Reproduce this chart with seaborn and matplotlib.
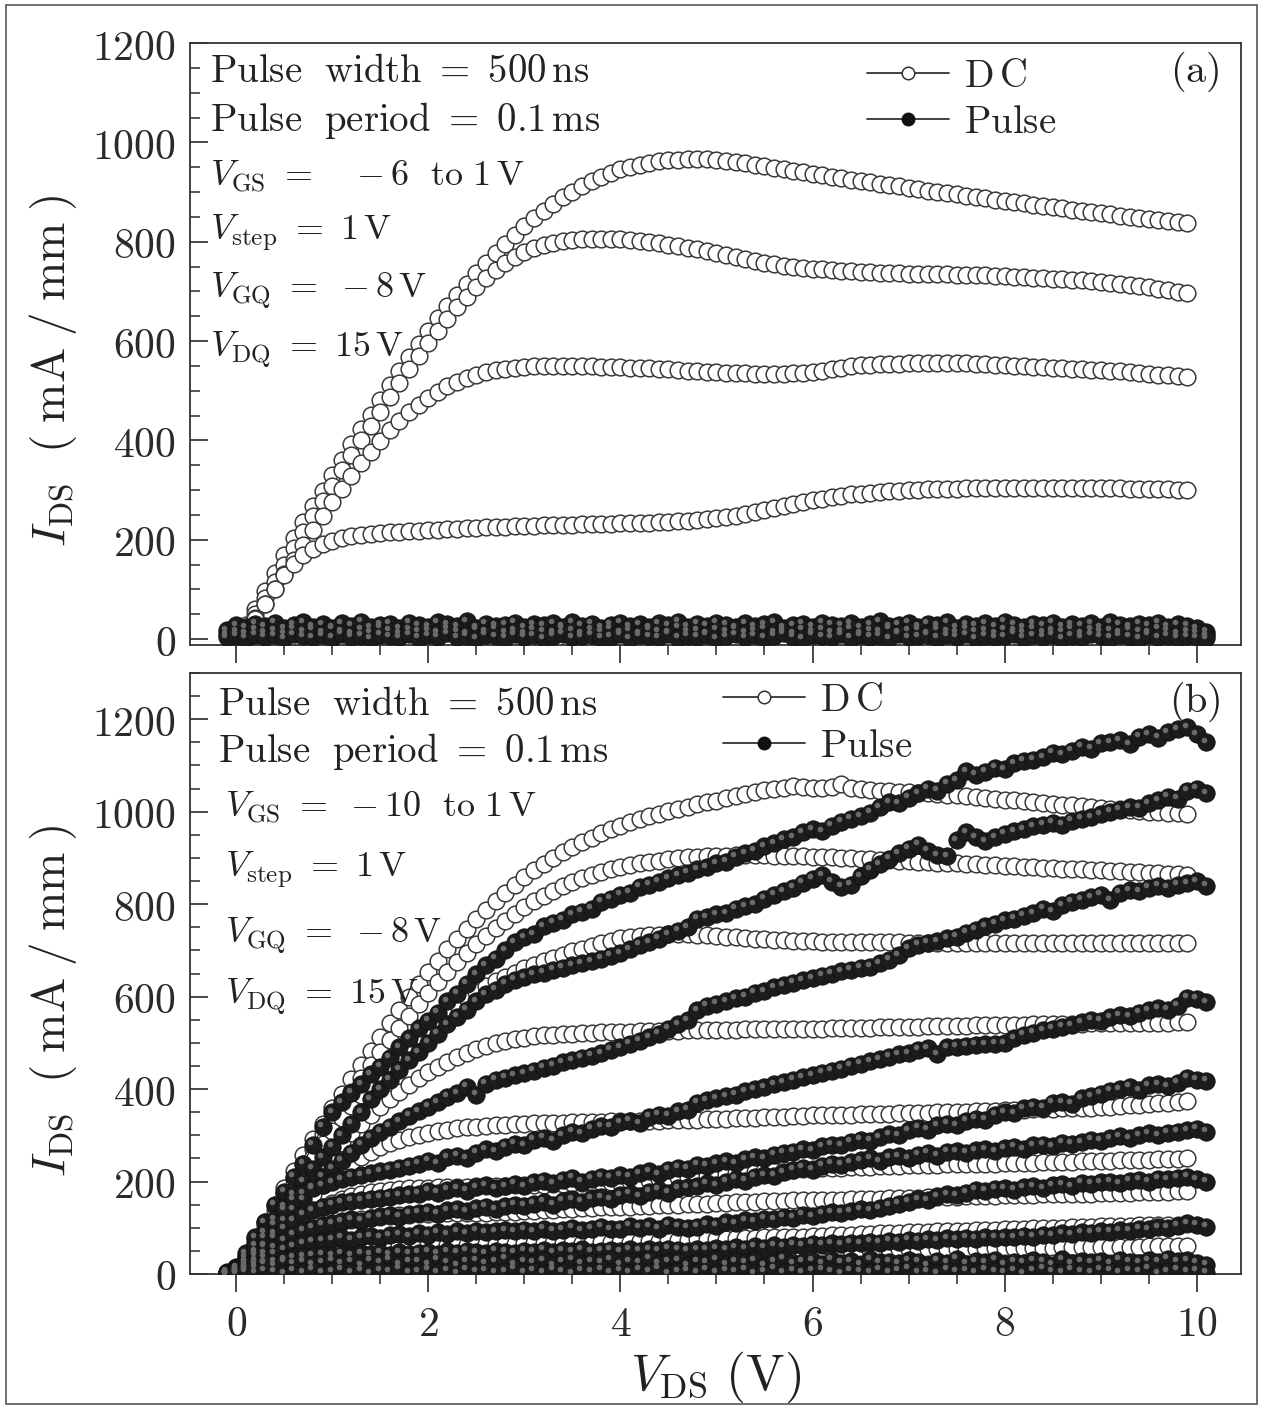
import numpy as np
import matplotlib
matplotlib.use("Agg")
import matplotlib.pyplot as plt
import matplotlib.transforms as mtrans
from matplotlib.lines import Line2D
from matplotlib.patches import Rectangle
from matplotlib.ticker import MultipleLocator, FuncFormatter
import seaborn as sns

# ---------------- data ----------------
vds_dc = np.round(np.arange(0.0, 9.95, 0.1), 1)        # 0.0 ... 9.9
vds_pulse = np.round(np.arange(-0.1, 10.15, 0.1), 1)   # -0.1 ... 10.1

# panel (a) DC curves
a_dc1 = [5, 28, 60, 97, 133, 170, 203, 236, 268, 299,
         330, 361, 392, 422, 452, 482, 511, 540, 568, 595,
         621, 646, 670, 693, 715, 737, 757, 777, 796, 814,
         831, 847, 862, 876, 889, 901, 912, 922, 931, 939,
         946, 951, 955, 959, 962, 964, 965, 966, 966, 966,
         965, 963, 961, 958, 955, 952, 949, 946, 943, 940,
         937, 934, 931, 928, 925, 923, 920, 917, 915, 912,
         909, 906, 903, 900, 897, 895, 892, 889, 887, 884,
         882, 879, 877, 874, 872, 869, 867, 864, 862, 859,
         857, 855, 852, 850, 848, 846, 844, 842, 840, 838]
a_dc2 = [3, 22, 50, 82, 115, 150, 183, 215, 247, 278,
         309, 340, 370, 400, 429, 458, 487, 515, 543, 570,
         596, 621, 645, 668, 689, 709, 727, 743, 757, 769,
         779, 787, 793, 798, 801, 803, 805, 806, 806, 806,
         805, 804, 802, 800, 797, 794, 791, 788, 785, 781,
         777, 773, 769, 765, 761, 758, 755, 752, 750, 748,
         746, 744, 742, 741, 740, 739, 738, 737, 736, 736,
         735, 735, 734, 734, 734, 733, 733, 732, 732, 731,
         730, 729, 728, 727, 726, 725, 724, 723, 722, 720,
         718, 716, 714, 712, 710, 708, 705, 702, 699, 696]
a_dc3 = [2, 18, 42, 70, 100, 130, 160, 190, 219, 248,
         276, 303, 329, 354, 377, 399, 420, 439, 457, 472,
         486, 498, 509, 518, 526, 532, 537, 541, 544, 546,
         548, 549, 550, 550, 550, 550, 549, 549, 548, 548,
         547, 546, 546, 545, 544, 543, 542, 540, 539, 538,
         537, 536, 535, 535, 534, 534, 534, 534, 535, 536,
         538, 540, 543, 546, 549, 551, 552, 553, 554, 554,
         555, 555, 555, 555, 555, 555, 555, 554, 553, 552,
         551, 550, 549, 548, 547, 546, 545, 544, 543, 542,
         541, 540, 539, 537, 536, 534, 532, 531, 529, 527]
a_dc4 = [2, 15, 40, 70, 100, 128, 152, 170, 182, 191,
         198, 203, 207, 210, 212, 214, 215, 216, 217, 218,
         219, 220, 221, 222, 223, 224, 225, 226, 226, 227,
         228, 228, 229, 229, 230, 230, 231, 231, 232, 232,
         233, 233, 234, 234, 235, 236, 237, 238, 239, 241,
         243, 245, 248, 251, 255, 259, 263, 267, 271, 275,
         279, 282, 285, 288, 291, 293, 295, 297, 298, 299,
         300, 301, 302, 302, 303, 303, 304, 304, 304, 304,
         304, 304, 304, 304, 304, 304, 304, 304, 304, 304,
         304, 304, 304, 303, 303, 303, 302, 302, 301, 300]

# panel (a) pulse curves (all near zero)
a_p1 = [18, 28, 24, 31, 26, 33, 22, 29, 34, 25,
        30, 23, 32, 27, 35, 24, 29, 31, 22, 33,
        28, 25, 34, 30, 26, 36, 23, 31, 27, 29,
        33, 24, 30, 28, 32, 25, 34, 27, 31, 23,
        29, 33, 26, 30, 24, 32, 28, 35, 25, 31,
        27, 33, 29, 24, 32, 26, 30, 34, 23, 28,
        31, 25, 33, 29, 27, 32, 24, 30, 36, 26,
        29, 33, 25, 31, 28, 34, 23, 30, 27, 32,
        26, 35, 29, 24, 31, 28, 33, 25, 30, 27,
        32, 24, 34, 29, 26, 31, 28, 33, 25, 30,
        27, 22, 15]
a_p2 = [10, 16, 12, 20, 14, 18, 11, 22, 15, 19,
        13, 21, 16, 12, 19, 14, 23, 17, 11, 20,
        15, 18, 13, 22, 16, 12, 19, 15, 21, 14,
        17, 11, 20, 16, 13, 22, 18, 12, 19, 15,
        21, 14, 17, 12, 20, 16, 13, 23, 15, 18,
        12, 19, 16, 21, 13, 17, 22, 14, 18, 11,
        20, 15, 19, 13, 16, 22, 12, 18, 15, 21,
        14, 17, 20, 12, 19, 16, 13, 22, 15, 18,
        11, 20, 17, 14, 21, 13, 18, 16, 22, 12,
        19, 15, 17, 13, 20, 16, 14, 21, 18, 12,
        16, 13, 8]
a_p3 = [4, 7, 3, 9, 5, 8, 2, 10, 6, 4,
        8, 3, 11, 5, 7, 2, 9, 6, 4, 10,
        3, 8, 5, 12, 4, 7, 2, 9, 6, 3,
        10, 5, 8, 2, 7, 11, 4, 6, 9, 3,
        5, 10, 2, 8, 6, 4, 11, 3, 7, 5,
        9, 2, 6, 10, 4, 8, 3, 7, 12, 5,
        2, 9, 6, 4, 10, 3, 8, 5, 7, 2,
        11, 4, 6, 9, 3, 8, 5, 10, 2, 7,
        4, 6, 11, 3, 8, 5, 9, 2, 7, 4,
        10, 6, 3, 8, 5, 2, 9, 4, 7, 3,
        6, 4, 2]

# panel (b) DC curves
b_dc1 = [5, 38, 75, 112, 150, 187, 222, 257, 291, 325,
         358, 390, 422, 453, 483, 513, 543, 572, 600, 627,
         653, 678, 702, 725, 747, 768, 788, 807, 825, 842,
         858, 873, 887, 900, 912, 923, 934, 944, 953, 962,
         970, 977, 984, 990, 996, 1001, 1006, 1011, 1016, 1020,
         1024, 1029, 1034, 1038, 1042, 1046, 1049, 1052, 1055, 1054,
         1052, 1051, 1054, 1060, 1052, 1049, 1047, 1045, 1044, 1043,
         1042, 1041, 1040, 1039, 1037, 1036, 1034, 1032, 1030, 1028,
         1026, 1025, 1023, 1021, 1019, 1017, 1015, 1014, 1012, 1010,
         1008, 1006, 1005, 1003, 1002, 1000, 999, 998, 997, 996]
b_dc2 = [4, 34, 68, 103, 138, 172, 206, 239, 271, 303,
         334, 364, 394, 423, 452, 480, 507, 533, 559, 584,
         608, 631, 653, 674, 694, 713, 731, 748, 764, 779,
         793, 806, 818, 829, 839, 848, 856, 863, 869, 875,
         880, 884, 888, 891, 894, 897, 899, 901, 903, 904,
         905, 905, 906, 906, 906, 906, 905, 905, 904, 904,
         903, 902, 901, 900, 899, 898, 897, 896, 895, 894,
         893, 892, 891, 890, 889, 888, 887, 886, 885, 884,
         883, 882, 881, 880, 879, 878, 877, 876, 875, 874,
         873, 872, 871, 870, 869, 868, 867, 866, 865, 864]
b_dc3 = [3, 30, 62, 95, 128, 160, 192, 223, 253, 282,
         310, 337, 363, 388, 412, 435, 457, 478, 498, 517,
         535, 552, 568, 583, 597, 610, 622, 633, 643, 652,
         661, 669, 677, 684, 691, 698, 704, 710, 716, 721,
         726, 729, 731, 733, 734, 735, 735, 735, 734, 733,
         732, 730, 728, 727, 725, 724, 723, 722, 721, 720,
         720, 719, 719, 718, 718, 718, 718, 718, 718, 718,
         717, 717, 717, 717, 717, 717, 717, 717, 717, 717,
         717, 717, 717, 717, 717, 717, 717, 717, 717, 717,
         716, 716, 716, 716, 716, 716, 716, 716, 716, 716]
b_dc4 = [2, 25, 52, 80, 108, 136, 163, 189, 214, 238,
         261, 283, 304, 324, 343, 361, 378, 394, 409, 423,
         436, 448, 459, 469, 478, 486, 493, 499, 504, 508,
         511, 514, 516, 518, 519, 520, 521, 522, 523, 523,
         524, 524, 525, 525, 526, 526, 526, 527, 527, 527,
         528, 528, 528, 529, 529, 529, 530, 530, 530, 531,
         531, 531, 532, 532, 532, 533, 533, 534, 534, 534,
         535, 535, 536, 536, 536, 537, 537, 538, 538, 538,
         539, 539, 539, 540, 540, 540, 541, 541, 541, 542,
         542, 542, 543, 543, 543, 544, 544, 544, 545, 545]
b_dc5 = [2, 20, 42, 65, 88, 111, 133, 154, 174, 193,
         210, 226, 240, 253, 264, 274, 283, 290, 296, 301,
         305, 309, 312, 315, 317, 319, 321, 322, 323, 324,
         325, 326, 326, 327, 327, 328, 328, 329, 329, 330,
         330, 331, 331, 332, 332, 333, 333, 334, 334, 335,
         335, 336, 337, 337, 338, 339, 340, 340, 341, 342,
         343, 343, 344, 345, 345, 346, 346, 347, 347, 348,
         348, 349, 349, 350, 350, 351, 351, 352, 352, 353,
         354, 354, 355, 356, 356, 357, 358, 359, 359, 360,
         361, 362, 363, 365, 366, 367, 369, 370, 372, 374]
b_dc6 = [1, 15, 32, 50, 68, 86, 103, 118, 132, 144,
         154, 162, 168, 173, 177, 180, 182, 184, 185, 186,
         187, 188, 188, 189, 189, 190, 190, 191, 191, 192,
         192, 193, 193, 194, 195, 196, 197, 198, 199, 200,
         200, 201, 203, 204, 206, 207, 209, 210, 212, 213,
         215, 216, 218, 219, 220, 222, 223, 224, 226, 227,
         228, 229, 229, 230, 231, 232, 232, 233, 234, 234,
         235, 235, 236, 236, 237, 237, 238, 238, 239, 239,
         240, 240, 241, 241, 242, 242, 243, 243, 244, 244,
         245, 245, 246, 246, 247, 247, 248, 248, 249, 250]
b_dc7 = [1, 12, 25, 38, 51, 63, 74, 84, 93, 101,
         107, 112, 116, 119, 122, 124, 126, 127, 128, 129,
         130, 130, 131, 131, 132, 132, 133, 134, 134, 135,
         136, 137, 138, 139, 140, 141, 142, 143, 144, 144,
         145, 146, 147, 148, 149, 149, 150, 151, 152, 152,
         153, 154, 155, 155, 156, 157, 158, 158, 159, 159,
         160, 160, 161, 161, 162, 162, 163, 163, 164, 164,
         165, 165, 166, 166, 167, 167, 168, 168, 169, 169,
         170, 170, 171, 171, 172, 172, 173, 173, 174, 174,
         175, 175, 176, 176, 177, 177, 178, 178, 179, 180]
b_dc8 = [0, 8, 16, 24, 32, 39, 45, 50, 54, 57,
         59, 60, 60, 61, 61, 61, 62, 62, 62, 62,
         62, 63, 63, 63, 63, 64, 64, 64, 65, 65,
         66, 66, 66, 67, 67, 68, 68, 68, 69, 69,
         70, 70, 71, 71, 72, 73, 73, 74, 75, 75,
         76, 76, 77, 78, 78, 79, 79, 80, 81, 81,
         82, 83, 84, 84, 85, 86, 87, 88, 88, 89,
         90, 91, 91, 92, 93, 93, 94, 95, 95, 96,
         97, 97, 98, 99, 99, 100, 100, 101, 102, 102,
         103, 103, 104, 104, 105, 105, 106, 106, 107, 108]
b_dc9 = [0, 5, 10, 14, 18, 21, 24, 26, 28, 29,
         30, 31, 31, 32, 32, 33, 33, 33, 34, 34,
         35, 35, 35, 36, 36, 36, 37, 37, 37, 38,
         38, 38, 38, 39, 39, 39, 40, 40, 40, 40,
         41, 41, 42, 42, 43, 43, 44, 44, 45, 45,
         46, 46, 47, 47, 48, 48, 49, 49, 50, 50,
         50, 51, 51, 51, 52, 52, 52, 53, 53, 53,
         54, 54, 54, 54, 55, 55, 55, 55, 56, 56,
         56, 56, 57, 57, 57, 57, 58, 58, 58, 58,
         58, 59, 59, 59, 59, 60, 60, 60, 60, 60]
b_dc10 = [0, 2, 4, 6, 8, 9, 10, 11, 12, 12,
          13, 13, 13, 13, 14, 14, 14, 14, 14, 14,
          15, 15, 15, 15, 15, 15, 16, 16, 16, 16,
          16, 16, 16, 17, 17, 17, 17, 17, 17, 17,
          18, 18, 18, 18, 18, 18, 18, 19, 19, 19,
          19, 19, 19, 19, 20, 20, 20, 20, 20, 20,
          20, 20, 21, 21, 21, 21, 21, 21, 21, 21,
          22, 22, 22, 22, 22, 22, 22, 22, 22, 22,
          23, 23, 23, 23, 23, 23, 23, 23, 23, 23,
          24, 24, 24, 24, 24, 24, 24, 24, 24, 24]

# panel (b) pulse curves
b_p1 = [5, 15, 45, 80, 112, 150, 178, 210, 238, 280,
        318, 350, 372, 392, 410, 432, 448, 468, 490, 510,
        532, 548, 565, 590, 606, 628, 648, 668, 682, 700,
        718, 728, 735, 752, 760, 766, 778, 784, 790, 805,
        812, 820, 825, 838, 842, 848, 856, 862, 868, 875,
        880, 888, 892, 902, 910, 915, 925, 932, 940, 945,
        955, 962, 958, 970, 978, 985, 990, 998, 1010, 1020,
        1018, 1030, 1040, 1050, 1045, 1060, 1068, 1088, 1080, 1086,
        1095, 1092, 1105, 1110, 1112, 1118, 1128, 1124, 1132, 1140,
        1136, 1148, 1150, 1155, 1146, 1162, 1168, 1160, 1172, 1178,
        1183, 1168, 1150]
b_p2 = [3, 12, 35, 62, 90, 118, 145, 172, 200, 228,
        252, 275, 300, 325, 350, 378, 400, 420, 442, 462,
        480, 500, 520, 540, 556, 572, 590, 605, 615, 628,
        636, 642, 648, 652, 658, 662, 668, 672, 676, 682,
        688, 694, 702, 712, 718, 725, 735, 742, 750, 768,
        772, 778, 780, 790, 795, 800, 812, 820, 828, 835,
        846, 855, 862, 848, 838, 842, 860, 874, 886, 898,
        910, 920, 928, 915, 906, 904, 938, 955, 945, 936,
        945, 952, 958, 962, 968, 972, 976, 972, 980, 985,
        988, 995, 1000, 1004, 1010, 1008, 1018, 1025, 1032, 1028,
        1045, 1050, 1040]
b_p3 = [2, 10, 28, 45, 62, 88, 115, 140, 162, 188,
        210, 228, 245, 262, 280, 295, 308, 318, 330, 342,
        352, 362, 372, 383, 391, 405, 388, 412, 420, 425,
        430, 434, 440, 446, 450, 458, 462, 468, 472, 478,
        485, 491, 498, 505, 512, 520, 530, 540, 549, 570,
        580, 585, 590, 596, 600, 608, 612, 620, 625, 630,
        635, 640, 645, 650, 655, 658, 662, 665, 672, 680,
        690, 705, 712, 716, 720, 726, 730, 738, 745, 752,
        758, 765, 768, 775, 780, 790, 785, 798, 805, 810,
        815, 820, 808, 825, 830, 828, 835, 840, 836, 842,
        845, 850, 840]
b_p4 = [2, 8, 25, 48, 78, 108, 140, 162, 175, 186,
        192, 198, 205, 210, 214, 218, 222, 225, 230, 234,
        238, 245, 240, 252, 256, 250, 262, 270, 266, 275,
        282, 278, 290, 295, 288, 300, 308, 304, 314, 320,
        318, 328, 332, 326, 340, 345, 342, 352, 355, 370,
        376, 380, 385, 388, 395, 400, 404, 410, 415, 420,
        426, 430, 435, 440, 444, 450, 455, 460, 465, 470,
        475, 478, 485, 488, 475, 490, 492, 494, 496, 497,
        498, 499, 510, 518, 522, 527, 530, 535, 538, 545,
        550, 548, 555, 560, 558, 565, 570, 575, 572, 580,
        598, 595, 588]
b_p5 = [2, 6, 20, 40, 60, 80, 98, 115, 128, 138,
        145, 150, 155, 158, 160, 163, 165, 167, 170, 172,
        174, 180, 176, 182, 186, 180, 188, 192, 186, 190,
        195, 190, 198, 202, 196, 204, 208, 200, 206, 210,
        208, 214, 210, 218, 222, 216, 226, 230, 228, 236,
        234, 240, 244, 240, 248, 252, 250, 258, 262, 264,
        270, 268, 276, 280, 278, 286, 290, 288, 296, 302,
        300, 311, 316, 312, 322, 325, 322, 332, 336, 334,
        344, 350, 348, 358, 362, 360, 370, 372, 368, 380,
        384, 390, 396, 400, 405, 398, 408, 410, 406, 414,
        425, 420, 418]
b_p6 = [1, 4, 15, 30, 45, 58, 72, 85, 94, 100,
        106, 110, 114, 118, 115, 122, 125, 128, 124, 130,
        132, 135, 130, 138, 140, 136, 142, 145, 140, 147,
        150, 148, 152, 156, 150, 158, 162, 156, 164, 166,
        162, 170, 174, 168, 178, 182, 176, 185, 188, 190,
        196, 192, 200, 206, 202, 210, 214, 212, 220, 225,
        230, 226, 234, 238, 236, 242, 246, 250, 244, 252,
        255, 250, 258, 262, 256, 264, 266, 262, 268, 270,
        266, 272, 275, 270, 278, 280, 276, 284, 282, 285,
        290, 288, 294, 298, 294, 300, 304, 300, 306, 308,
        311, 314, 308]
b_p7 = [1, 3, 12, 24, 35, 45, 54, 60, 66, 70,
        72, 75, 78, 74, 80, 82, 78, 84, 86, 82,
        88, 85, 90, 86, 92, 88, 94, 90, 92, 95,
        92, 96, 93, 98, 94, 96, 100, 95, 98, 102,
        97, 98, 104, 100, 103, 98, 106, 102, 100, 102,
        108, 104, 112, 110, 116, 114, 120, 118, 124, 122,
        128, 125, 130, 134, 132, 136, 140, 138, 142, 148,
        152, 156, 162, 160, 168, 172, 170, 176, 182, 180,
        184, 186, 182, 188, 190, 186, 192, 194, 190, 197,
        195, 198, 200, 196, 202, 204, 200, 206, 205, 208,
        210, 205, 200]
b_p8 = [0, 2, 8, 15, 22, 28, 32, 36, 38, 40,
        42, 40, 44, 41, 45, 43, 46, 42, 47, 44,
        46, 48, 44, 49, 46, 50, 47, 45, 50, 48,
        46, 50, 48, 52, 47, 51, 49, 53, 48, 50,
        52, 49, 54, 50, 53, 51, 55, 52, 50, 54,
        52, 56, 54, 58, 55, 60, 57, 62, 59, 63,
        61, 65, 63, 67, 64, 68, 66, 70, 68, 72,
        70, 74, 72, 75, 73, 77, 75, 78, 76, 79,
        78, 80, 79, 83, 81, 85, 84, 88, 86, 90,
        89, 93, 91, 95, 94, 98, 97, 101, 100, 104,
        110, 106, 102]
b_p9 = [2, 8, 15, 20, 24, 18, 26, 22, 28, 20,
        25, 30, 22, 27, 19, 29, 24, 31, 21, 26,
        28, 20, 32, 25, 18, 27, 30, 23, 26, 33,
        21, 28, 24, 30, 19, 26, 32, 22, 27, 25,
        31, 20, 28, 24, 33, 22, 26, 29, 19, 27,
        24, 32, 21, 28, 25, 30, 18, 27, 33, 23,
        26, 29, 22, 31, 24, 28, 20, 32, 25, 27,
        23, 30, 26, 19, 29, 24, 33, 22, 28, 25,
        31, 21, 27, 24, 30, 26, 20, 32, 23, 28,
        25, 29, 22, 31, 27, 24, 30, 26, 33, 28,
        30, 24, 20]
b_p10 = [0, 3, 6, 4, 8, 5, 2, 7, 4, 9,
         3, 6, 10, 4, 7, 2, 8, 5, 11, 3,
         6, 9, 4, 7, 2, 10, 5, 8, 3, 6,
         11, 4, 7, 3, 9, 5, 2, 8, 6, 10,
         4, 7, 3, 9, 5, 12, 2, 6, 8, 4,
         10, 3, 7, 5, 9, 2, 6, 11, 4, 8,
         3, 7, 10, 5, 2, 8, 6, 4, 9, 3,
         7, 11, 4, 6, 2, 9, 5, 8, 3, 10,
         6, 4, 8, 2, 7, 12, 5, 3, 9, 6,
         4, 10, 7, 3, 8, 5, 11, 2, 6, 9,
         5, 8, 3]

a_dc = [a_dc1, a_dc2, a_dc3, a_dc4]
a_pulse = [a_p1, a_p2, a_p3]
b_dc = [b_dc1, b_dc2, b_dc3, b_dc4, b_dc5, b_dc6, b_dc7, b_dc8, b_dc9, b_dc10]
b_pulse = [b_p1, b_p2, b_p3, b_p4, b_p5, b_p6, b_p7, b_p8, b_p9, b_p10]

a_notes = [r"$\mathrm{Pulse\ \ width}\ = \ 500\,\mathrm{ns}$",
           r"$\mathrm{Pulse\ \ period}\ = \ 0.1\,\mathrm{ms}$",
           r"$V_{\mathrm{GS}}\ =\ \ \ -6\ \ \mathrm{to}\ 1\,\mathrm{V}$",
           r"$V_{\mathrm{step}}\ = \ 1\,\mathrm{V}$",
           r"$V_{\mathrm{GQ}}\ = \ -8\,\mathrm{V}$",
           r"$V_{\mathrm{DQ}}\ = \ 15\,\mathrm{V}$"]
b_notes = [r"$\mathrm{Pulse\ \ width}\ = \ 500\,\mathrm{ns}$",
           r"$\mathrm{Pulse\ \ period}\ = \ 0.1\,\mathrm{ms}$",
           r"$V_{\mathrm{GS}}\ = \ -10\ \ \mathrm{to}\ 1\,\mathrm{V}$",
           r"$V_{\mathrm{step}}\ = \ 1\,\mathrm{V}$",
           r"$V_{\mathrm{GQ}}\ = \ -8\,\mathrm{V}$",
           r"$V_{\mathrm{DQ}}\ = \ 15\,\mathrm{V}$"]
legend_labels = [r"$\mathrm{D\,C}$", r"$\mathrm{Pulse}$"]

# ---------------- style ----------------
sns.set_theme(style="white")
plt.rcParams["mathtext.fontset"] = "cm"
plt.rcParams["font.family"] = ["DejaVu Serif"]

W, H = 1263, 1409
fig = plt.figure(figsize=(W / 100, H / 100), dpi=100, facecolor="white")
ax_a = fig.add_axes([190 / W, 1 - 645 / H, 1051 / W, 602 / H])
ax_b = fig.add_axes([190 / W, 1 - 1274 / H, 1051 / W, 601 / H])

DC_KW = dict(color="#222222", lw=0.8, marker="o", markersize=12,
             markerfacecolor="white", markeredgecolor="#3a3a3a",
             markeredgewidth=1.1)
PU_KW = dict(color="#111111", lw=0.8, marker="o", markersize=12.5,
             markerfacecolor="#1c1c1c", markeredgecolor="#111111",
             markeredgewidth=0.6)


def draw(ax, dc_curves, pulse_curves):
    for y in dc_curves:
        sns.lineplot(x=vds_dc, y=y, ax=ax, sort=False, estimator=None,
                     legend=False, zorder=2, **DC_KW)
    hl = mtrans.offset_copy(ax.transData, fig=fig, x=-1.8, y=1.8, units="points")
    for y in pulse_curves:
        sns.lineplot(x=vds_pulse, y=y, ax=ax, sort=False, estimator=None,
                     legend=False, zorder=3, **PU_KW)
        sns.scatterplot(x=vds_pulse, y=y, ax=ax, s=16, color="#6a6a6a",
                        linewidth=0, legend=False, zorder=3.5, transform=hl)


draw(ax_a, a_dc, a_pulse)
draw(ax_b, b_dc, b_pulse)

fmt = FuncFormatter(lambda v, p: r"$%d$" % int(round(v)))
for ax, ylim in ((ax_a, (-12, 1200)), (ax_b, (0, 1300))):
    ax.set_xlim(-0.48, 10.46)
    ax.set_ylim(*ylim)
    ax.set_facecolor("white")
    ax.xaxis.set_major_locator(MultipleLocator(2))
    ax.xaxis.set_minor_locator(MultipleLocator(0.5))
    ax.yaxis.set_major_locator(MultipleLocator(200))
    ax.yaxis.set_minor_locator(MultipleLocator(50))
    ax.xaxis.set_major_formatter(fmt)
    ax.yaxis.set_major_formatter(fmt)
    ax.tick_params(axis="x", which="both", direction="out", bottom=True, top=False,
                   colors="#2a2a2a", labelsize=30, pad=8)
    ax.tick_params(axis="y", which="both", direction="in", left=True, right=False,
                   colors="#2a2a2a", labelsize=30, pad=10)
    ax.tick_params(which="major", length=13, width=1.2)
    ax.tick_params(which="minor", length=7, width=1.1)
    for s in ax.spines.values():
        s.set_color("#333333")
        s.set_linewidth(1.3)
    ax.set_ylabel(r"$I_{\mathrm{DS}}\ \ (\;\mathrm{mA}\;/\;\mathrm{mm}\;)$",
                  fontsize=34, color="#222222")
    ax.yaxis.set_label_coords(-0.106, 0.455)
    ax.set_xlabel("")

ax_a.tick_params(axis="x", labelbottom=False)
ax_b.set_xlabel(r"$V_{\mathrm{DS}}\ (\mathrm{V})$", fontsize=37, labelpad=3,
                color="#222222")

# notes
a_y = [0.952, 0.872, 0.778, 0.685, 0.589, 0.490]
b_y = [0.947, 0.869, 0.775, 0.673, 0.562, 0.461]
for i, t in enumerate(a_notes):
    ax_a.text(0.019, a_y[i], t, transform=ax_a.transAxes,
              fontsize=28 if i < 2 else 26,
              ha="left", va="center", color="#222222", zorder=5)
for i, t in enumerate(b_notes):
    ax_b.text(0.027 if i < 2 else 0.033, b_y[i], t, transform=ax_b.transAxes,
              fontsize=28 if i < 2 else 26,
              ha="left", va="center", color="#222222", zorder=5)

ax_a.text(0.956, 0.952, r"$(\mathrm{a})$", transform=ax_a.transAxes, fontsize=29,
          ha="center", va="center", color="#222222")
ax_b.text(0.956, 0.952, r"$(\mathrm{b})$", transform=ax_b.transAxes, fontsize=29,
          ha="center", va="center", color="#222222")

# legends
handles = [Line2D([], [], color="#222222", lw=1.2, marker="o", markersize=9,
                  markerfacecolor="white", markeredgecolor="#333333", markeredgewidth=1.1),
           Line2D([], [], color="#222222", lw=1.2, marker="o", markersize=9,
                  markerfacecolor="#111111", markeredgecolor="#111111")]
for ax, pos in ((ax_a, (0.644, 0.975)), (ax_b, (0.507, 0.985))):
    ax.legend(handles, legend_labels, loc="upper left", bbox_to_anchor=pos,
              frameon=False, fontsize=28, handlelength=2.1, handletextpad=0.4,
              labelspacing=0.22, borderaxespad=0, borderpad=0)

fig.patches.append(Rectangle((6 / W, 1 - 1404 / H), 1251 / W, 1399 / H,
                             transform=fig.transFigure, fill=False,
                             ec="#555555", lw=1.2))

fig.savefig("out.png", dpi=100, facecolor="white")
